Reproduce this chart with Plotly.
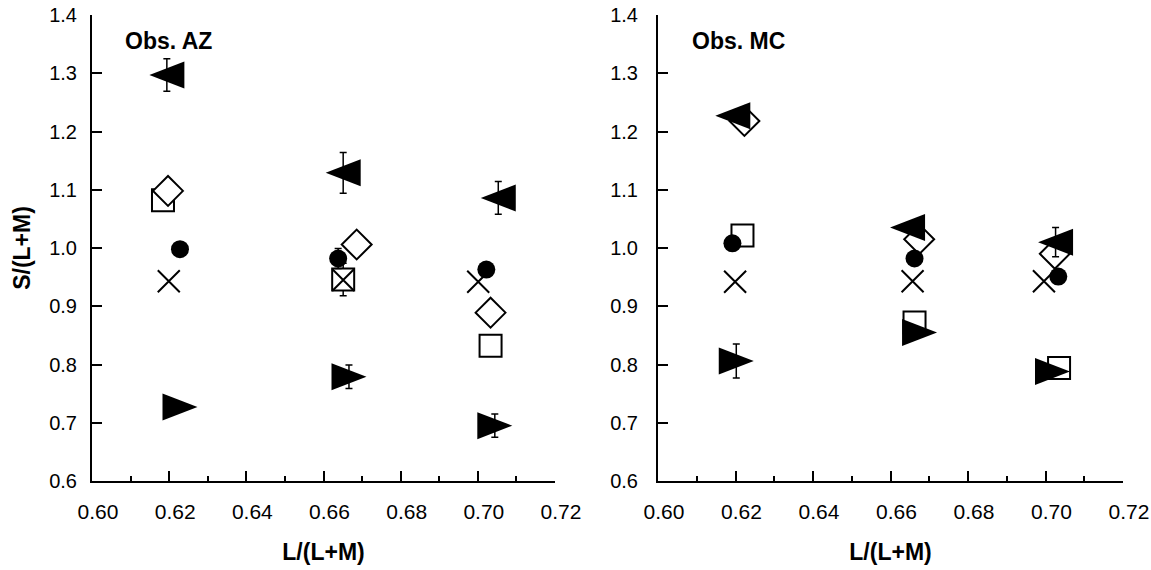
import plotly.graph_objects as go

# ---------------- data: Obs. AZ ----------------
az_tri_left_x = [0.6194, 0.6651, 0.7053]
az_tri_left_y = [1.297, 1.129, 1.086]
az_tri_left_err = [0.028, 0.035, 0.028]

az_tri_right_x = [0.6228, 0.6666, 0.7044]
az_tri_right_y = [0.727, 0.779, 0.695]
az_tri_right_err = [0.0, 0.020, 0.020]

az_diamond_x = [0.6197, 0.6686, 0.7033]
az_diamond_y = [1.098, 1.006, 0.889]

az_square_x = [0.6184, 0.6651, 0.7033]
az_square_y = [1.082, 0.946, 0.832]
az_square_err = [0.0, 0.028, 0.0]

az_circle_x = [0.6228, 0.6638, 0.7022]
az_circle_y = [0.998, 0.982, 0.963]
az_circle_err = [0.0, 0.017, 0.0]

az_cross_x = [0.6199, 0.6651, 0.7001]
az_cross_y = [0.943, 0.945, 0.942]

# ---------------- data: Obs. MC ----------------
mc_tri_left_x = [0.6193, 0.6644, 0.7026]
mc_tri_left_y = [1.227, 1.035, 1.010]
mc_tri_left_err = [0.0, 0.0, 0.025]

mc_tri_right_x = [0.6202, 0.6675, 0.7018]
mc_tri_right_y = [0.806, 0.855, 0.788]
mc_tri_right_err = [0.029, 0.0, 0.0]

mc_diamond_x = [0.6223, 0.6674, 0.7024]
mc_diamond_y = [1.218, 1.015, 0.990]

mc_square_x = [0.6218, 0.6662, 0.7035]
mc_square_y = [1.0215, 0.872, 0.794]

mc_circle_x = [0.6192, 0.6662, 0.7033]
mc_circle_y = [1.008, 0.982, 0.951]

mc_cross_x = [0.6199, 0.6657, 0.6996]
mc_cross_y = [0.942, 0.943, 0.943]

x_ticks = [0.60, 0.62, 0.64, 0.66, 0.68, 0.70, 0.72]
y_ticks = [0.6, 0.7, 0.8, 0.9, 1.0, 1.1, 1.2, 1.3, 1.4]
panel_titles = ["Obs. AZ", "Obs. MC"]
x_title = "L/(L+M)"
y_title = "S/(L+M)"

# ---------------- styles ----------------
BLACK = "black"
styles = {
    "square": dict(symbol="square", size=22, color="white", line=dict(color=BLACK, width=2)),
    "diamond": dict(symbol="diamond", size=23, color="white", line=dict(color=BLACK, width=2)),
    "cross": dict(symbol="x-thin", size=22, color=BLACK, line=dict(color=BLACK, width=2)),
    "circle": dict(symbol="circle", size=18, color=BLACK, line=dict(width=0)),
    # triangles: the glyph is drawn as a pixel-sized path anchored at the data point
    "tri_left": dict(symbol="circle", size=2, color=BLACK, line=dict(width=0)),
    "tri_right": dict(symbol="circle", size=2, color=BLACK, line=dict(width=0)),
}
# squat triangle glyphs (pixel units, centred on the data point)
TRI_GLYPH = {
    "tri_left": "M-17.5,0 L17.5,13.5 L17.5,-13.5 Z",
    "tri_right": "M17.5,0 L-17.5,13.5 L-17.5,-13.5 Z",
}

panels = [
    dict(xa="x", ya="y", series=[
        ("square", az_square_x, az_square_y, az_square_err),
        ("diamond", az_diamond_x, az_diamond_y, None),
        ("cross", az_cross_x, az_cross_y, None),
        ("circle", az_circle_x, az_circle_y, az_circle_err),
        ("tri_left", az_tri_left_x, az_tri_left_y, az_tri_left_err),
        ("tri_right", az_tri_right_x, az_tri_right_y, az_tri_right_err),
    ]),
    dict(xa="x2", ya="y2", series=[
        ("square", mc_square_x, mc_square_y, None),
        ("diamond", mc_diamond_x, mc_diamond_y, None),
        ("cross", mc_cross_x, mc_cross_y, None),
        ("circle", mc_circle_x, mc_circle_y, None),
        ("tri_left", mc_tri_left_x, mc_tri_left_y, mc_tri_left_err),
        ("tri_right", mc_tri_right_x, mc_tri_right_y, mc_tri_right_err),
    ]),
]

fig = go.Figure()
for p in panels:
    for name, xs, ys, err in p["series"]:
        kw = {}
        if err is not None:
            kw["error_y"] = dict(type="data", array=err, symmetric=True,
                                 color=BLACK, thickness=1.5, width=3.5)
        fig.add_trace(go.Scatter(
            x=xs, y=ys, mode="markers", name=name, showlegend=False,
            xaxis=p["xa"], yaxis=p["ya"], marker=styles[name], **kw))
        if name in TRI_GLYPH:
            for xv, yv in zip(xs, ys):
                fig.add_shape(type="path", xref=p["xa"], yref=p["ya"],
                              xsizemode="pixel", ysizemode="pixel",
                              xanchor=xv, yanchor=yv, path=TRI_GLYPH[name],
                              fillcolor=BLACK, line=dict(width=0), layer="above")

FONT = "Liberation Sans, Arial, Helvetica, sans-serif"
W, H = 1151, 570


def xaxis_cfg(domain, title, anchor):
    return dict(
        anchor=anchor, domain=domain, range=[0.60, 0.72], tickvals=x_ticks, tickformat=".2f",
        ticks="inside", ticklen=10, tickwidth=1.5, tickcolor=BLACK,
        minor=dict(dtick=0.01, tick0=0.60, ticks="inside", ticklen=5,
                   tickwidth=1.5, tickcolor=BLACK),
        showline=True, linewidth=2, linecolor=BLACK, showgrid=False, zeroline=False,
        automargin=False,
        tickfont=dict(family=FONT, size=21, color=BLACK),
        ticklabelstandoff=11, ticklabelshift=6,
        title=dict(text="<b>%s</b>" % title, standoff=22,
                   font=dict(family=FONT, size=23, color=BLACK)),
    )


def yaxis_cfg(anchor, standoff, title=None):
    d = dict(
        anchor=anchor, domain=[0, 1], range=[0.6, 1.4], tickvals=y_ticks, tickformat=".1f",
        ticks="inside", ticklen=10, tickwidth=1.5, tickcolor=BLACK,
        showline=True, linewidth=2, linecolor=BLACK, showgrid=False, zeroline=False,
        automargin=False,
        tickfont=dict(family=FONT, size=20, color=BLACK),
        ticklabelstandoff=standoff,
    )
    if title:
        d["title"] = dict(text="<b>%s</b>" % title, standoff=12,
                          font=dict(family=FONT, size=23, color=BLACK))
    return d


fig.update_layout(
    width=W, height=H,
    margin=dict(l=0, r=0, t=15, b=89, autoexpand=False),
    paper_bgcolor="white", plot_bgcolor="white",
    showlegend=False,
    xaxis=xaxis_cfg([92 / W, 555 / W], x_title, "y"),
    yaxis=yaxis_cfg("x", 9, y_title),
    xaxis2=xaxis_cfg([658 / W, 1123 / W], x_title, "y2"),
    yaxis2=yaxis_cfg("x2", 14),
)

title_pos = [0.067, 0.0688]
for i, t in enumerate(panel_titles):
    xr = "x domain" if i == 0 else "x2 domain"
    yr = "y domain" if i == 0 else "y2 domain"
    fig.add_annotation(text="<b>%s</b>" % t, xref=xr, yref=yr, x=title_pos[i],
                       y=0.944, xanchor="left", yanchor="middle", showarrow=False,
                       font=dict(family=FONT, size=23, color=BLACK))

fig.write_html("out.html")
